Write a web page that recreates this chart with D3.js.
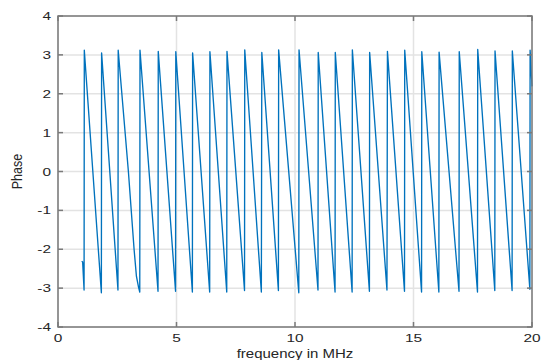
<!DOCTYPE html>
<html>
<head>
<meta charset="utf-8">
<script src="https://cdn.jsdelivr.net/npm/d3@7"></script>
<style>
  body { margin: 0; background: #fff; }
  text { font-family: "Liberation Sans", Arial, sans-serif; fill: #262626; }
</style>
</head>
<body>
<div id="chart"></div>
<script>
// vertices of the wrapped phase trace (MHz, rad)
const freq = [1.00, 1.04, 1.10, 1.11, 1.83, 1.84, 2.53, 2.54, 2.97, 3.21, 3.31, 3.40, 3.45, 3.46,
  4.22, 4.23, 4.96, 4.97, 5.67, 5.68, 6.40, 6.41, 7.12, 7.13, 7.87, 7.88, 8.58, 8.60, 9.30, 9.31,
  10.16, 10.17, 10.97, 10.98, 11.69, 11.70, 12.41, 12.42, 13.14, 13.15, 13.88, 13.90, 14.62, 14.63,
  15.34, 15.35, 16.07, 16.08, 16.92, 16.93, 17.70, 17.71, 18.43, 18.44, 19.16, 19.17, 19.91, 19.92, 20.00]
const phase = [-2.31, -2.33, -3.05, 3.12, -3.12, 3.05, -3.05, 3.12, 0.00, -2.00, -2.70, -2.98, -3.10, 3.12,
  -3.08, 3.09, -3.08, 3.08, -3.10, 3.05, -3.10, 3.08, -3.10, 3.09, -3.06, 3.13, -3.10, 3.06, -3.06, 3.13,
  -3.12, 3.13, -3.05, 3.06, -3.10, 3.06, -3.10, 3.13, -3.08, 3.06, -3.05, 3.09, -3.08, 3.12,
  -3.10, 3.08, -3.10, 3.07, -3.08, 3.08, -3.10, 3.14, -3.06, 3.10, -3.06, 3.10, -3.03, 3.12, 2.19]

const xTicks = [0, 5, 10, 15, 20]
const yTicks = [-4, -3, -2, -1, 0, 1, 2, 3, 4]
const xLabel = "frequency in MHz"
const yLabel = "Phase"

var width = 541, height = 360
var margin = {top: 16, right: 9, bottom: 33, left: 58}
var stretch = 1.4  // text in the reference is widened

var svg = d3.select("#chart").append("svg")
  .attr("width", width)
  .attr("height", height)

svg.append("rect").attr("width", width).attr("height", height).attr("fill", "#fff")

var x = d3.scaleLinear().domain([0, 20]).range([margin.left, width - margin.right])
var y = d3.scaleLinear().domain([-4, 4]).range([height - margin.bottom, margin.top])

var data = freq.map(function(f, i){ return {f: f, p: phase[i]} })

// grid
svg.append("g").selectAll("line.gx").data(xTicks).join("line")
  .attr("x1", d => x(d)).attr("x2", d => x(d))
  .attr("y1", y(-4)).attr("y2", y(4))
  .attr("stroke", "#e3e3e3").attr("stroke-width", 1.5)
svg.append("g").selectAll("line.gy").data(yTicks).join("line")
  .attr("y1", d => y(d)).attr("y2", d => y(d))
  .attr("x1", x(0)).attr("x2", x(20))
  .attr("stroke", "#e3e3e3").attr("stroke-width", 1.5)

// trace
var line = d3.line().x(d => x(d.f)).y(d => y(d.p))
svg.append("path")
  .datum(data)
  .attr("d", line)
  .attr("fill", "none")
  .attr("stroke", "#0072BD")
  .attr("stroke-width", 1.35)
  .attr("stroke-linejoin", "round")

// box + inward ticks
var tk = 5
var ax = svg.append("g").attr("stroke", "#7a7a7a").attr("stroke-width", 1.5)
ax.append("rect")
  .attr("x", x(0)).attr("y", y(4))
  .attr("width", x(20) - x(0)).attr("height", y(-4) - y(4))
  .attr("fill", "none")
xTicks.forEach(function(t){
  ax.append("line").attr("x1", x(t)).attr("x2", x(t)).attr("y1", y(-4)).attr("y2", y(-4) - tk)
  ax.append("line").attr("x1", x(t)).attr("x2", x(t)).attr("y1", y(4)).attr("y2", y(4) + tk)
})
yTicks.forEach(function(t){
  ax.append("line").attr("y1", y(t)).attr("y2", y(t)).attr("x1", x(0)).attr("x2", x(0) + tk)
  ax.append("line").attr("y1", y(t)).attr("y2", y(t)).attr("x1", x(20)).attr("x2", x(20) - tk)
})

// tick labels
svg.append("g").selectAll("text").data(xTicks).join("text")
  .attr("transform", d => "translate(" + x(d) + "," + (y(-4) + 15) + ") scale(" + stretch + ",1)")
  .attr("text-anchor", "middle")
  .style("font-size", "11px")
  .text(d => d)
svg.append("g").selectAll("text").data(yTicks).join("text")
  .attr("transform", d => "translate(" + (x(0) - 7) + "," + (y(d) + 4) + ") scale(" + stretch + ",1)")
  .attr("text-anchor", "end")
  .style("font-size", "11px")
  .text(d => d)

// axis labels
svg.append("text")
  .attr("transform", "translate(" + ((x(0) + x(20)) / 2) + "," + (height - 2) + ") scale(1.2,1)")
  .attr("text-anchor", "middle")
  .style("font-size", "12.5px")
  .text(xLabel)
svg.append("text")
  .attr("transform", "translate(22," + ((y(-4) + y(4)) / 2) + ") rotate(-90) scale(1,1.2)")
  .attr("text-anchor", "middle")
  .style("font-size", "12.5px")
  .text(yLabel)
</script>
</body>
</html>
